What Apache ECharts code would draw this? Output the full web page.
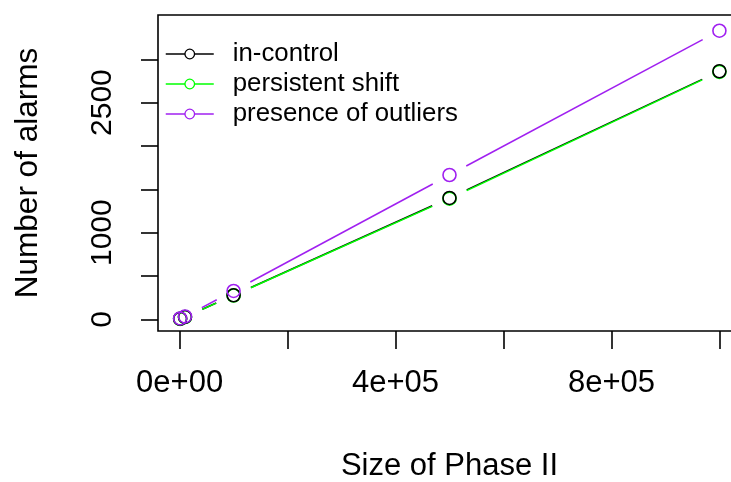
<!DOCTYPE html>
<html>
<head>
<meta charset="utf-8">
<script src="https://cdn.jsdelivr.net/npm/echarts@6/dist/echarts.min.js"></script>
<style>
  html, body { margin: 0; padding: 0; background: #fff; }
  #chart { width: 731px; height: 482px; }
</style>
</head>
<body>
<div id="chart"></div>
<script>
// Phase II sizes and alarm counts for each scenario
const phaseSizes = [1000, 10000, 100000, 500000, 1000000];
const inControl = [6, 27, 277, 1400, 2862];
const persistentShift = [5, 26, 275, 1392, 2855];
const outliers = [10, 33, 327, 1665, 3330];

const seriesNames = ['in-control', 'persistent shift', 'presence of outliers'];
const seriesColors = ['#000000', '#00ff00', '#a020f0'];
const seriesValues = [inControl, persistentShift, outliers];

// axis ticks and labels
const xTicks = [0, 200000, 400000, 600000, 800000, 1000000];
const xTickLabels = [0, 400000, 800000];
const yTicks = [0, 500, 1000, 1500, 2000, 2500, 3000];
const yTickLabels = [0, 1000, 2500];

const FONT = 'Liberation Sans, Arial, sans-serif';
const GAP = 19; // blank space left around each point by the connecting segments

function sciLabel(v) {
  if (v === 0) return '0e+00';
  const e = Math.floor(Math.log10(Math.abs(v)));
  const m = v / Math.pow(10, e);
  return m + 'e+' + String(e).padStart(2, '0');
}

function toPoints(vals) {
  return phaseSizes.map((x, i) => [x, vals[i]]);
}

function toSegments(vals) {
  const segs = [];
  for (let i = 0; i < phaseSizes.length - 1; i++) {
    segs.push([phaseSizes[i], vals[i], phaseSizes[i + 1], vals[i + 1]]);
  }
  return segs;
}

const markerZ = [4, 3, 5];
const segZ = [1, 2, 2.5];

const series = [];
seriesNames.forEach((name, k) => {
  // segments between points, with gaps around each marker
  series.push({
    type: 'custom',
    name: name + ' segments',
    z: segZ[k],
    data: toSegments(seriesValues[k]),
    encode: { x: [0, 2], y: [1, 3] },
    silent: true,
    renderItem: function (params, api) {
      const p0 = api.coord([api.value(0), api.value(1)]);
      const p1 = api.coord([api.value(2), api.value(3)]);
      const dx = p1[0] - p0[0], dy = p1[1] - p0[1];
      const len = Math.sqrt(dx * dx + dy * dy);
      if (len <= 2 * GAP) return null;
      const ux = dx / len, uy = dy / len;
      return {
        type: 'line',
        shape: {
          x1: p0[0] + ux * GAP, y1: p0[1] + uy * GAP,
          x2: p1[0] - ux * GAP, y2: p1[1] - uy * GAP
        },
        style: { stroke: seriesColors[k], lineWidth: 1.5 }
      };
    }
  });
  // hollow point markers
  series.push({
    type: 'line',
    name: name,
    z: markerZ[k],
    data: toPoints(seriesValues[k]),
    symbol: 'circle',
    symbolSize: 13,
    lineStyle: { color: seriesColors[k], width: 1.5, opacity: 0 },
    itemStyle: { color: 'transparent', borderColor: seriesColors[k], borderWidth: 1.6 },
    emphasis: { disabled: true }
  });
});

const chart = echarts.init(document.getElementById('chart'), null, { renderer: 'canvas' });
chart.setOption({
  animation: false,
  backgroundColor: '#ffffff',
  textStyle: { fontFamily: FONT },
  grid: {
    left: 158, top: 15, width: 583, height: 316,
    outerBoundsMode: 'none',
    containLabel: false,
    show: true, borderColor: '#000', borderWidth: 1.6, backgroundColor: 'transparent'
  },
  legend: {
    data: seriesNames,
    orient: 'vertical',
    left: 160,
    top: 36,
    itemWidth: 48,
    itemHeight: 12,
    itemGap: 4,
    lineStyle: { opacity: 1, width: 1.5 },
    itemStyle: { color: '#ffffff', borderWidth: 1.3 },
    textStyle: { fontFamily: FONT, fontSize: 25.8, color: '#000', padding: [0, 0, 0, 14] },
    selectedMode: false
  },
  xAxis: {
    type: 'value',
    min: -40000,
    max: 1040000,
    name: 'Size of Phase II',
    nameLocation: 'middle',
    nameGap: 120,
    nameTextStyle: { fontFamily: FONT, fontSize: 31, color: '#000' },
    axisLine: { show: false, onZero: false },
    axisTick: { show: true, inside: false, length: 18, customValues: xTicks, lineStyle: { color: '#000', width: 1.6 } },
    axisLabel: {
      customValues: xTickLabels,
      formatter: sciLabel,
      margin: 37,
      fontFamily: FONT, fontSize: 31, color: '#000'
    },
    splitLine: { show: false }
  },
  yAxis: {
    type: 'value',
    min: -135,
    max: 3511,
    name: 'Number of alarms',
    nameLocation: 'middle',
    nameGap: 114,
    nameRotate: 90,
    nameTextStyle: { fontFamily: FONT, fontSize: 31.5, color: '#000' },
    axisLine: { show: false, onZero: false },
    axisTick: { show: true, inside: false, length: 17, customValues: yTicks, lineStyle: { color: '#000', width: 1.6 } },
    axisLabel: {
      customValues: yTickLabels,
      formatter: function (v) { return String(v); },
      rotate: 90,
      margin: 40,
      fontFamily: FONT, fontSize: 30, color: '#000'
    },
    splitLine: { show: false }
  },
  series: series
});
</script>
</body>
</html>
